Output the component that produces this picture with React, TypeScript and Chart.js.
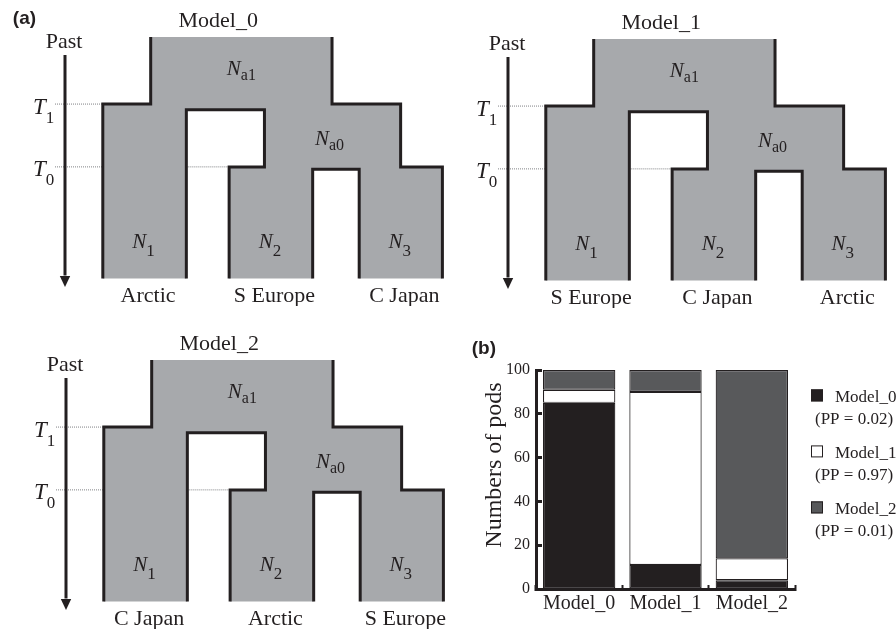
import React, { useEffect, useRef } from "react";
import { Chart, registerables } from "chart.js";

Chart.register(...registerables);

// ---------------- (a) model trees : data ----------------
const MODEL_TITLES = ["Model_0", "Model_1", "Model_2"];
const POPS_MODEL_0 = ["Arctic", "S Europe", "C Japan"];
const POPS_MODEL_1 = ["S Europe", "C Japan", "Arctic"];
const POPS_MODEL_2 = ["C Japan", "Arctic", "S Europe"];
const MODEL_POPS = [POPS_MODEL_0, POPS_MODEL_1, POPS_MODEL_2];

// horizontal extent of the tree (0..100 across)
const BRANCH_LEFT = [0, 37.2, 75.5];
const BRANCH_RIGHT = [24.6, 61.8, 100];
const ANC0_LEFT = 47.6;
const ANC0_STEP = 87.7;
const ANC1_LEFT = 14.1;
const ANC1_RIGHT = 67.5;
// time (present = 0)
const TIME_T0 = 46.2;
const TIME_T1 = 72.2;
const TIME_TOP = 100;
const GAP_TOP = [69.8, 45.2];

const SIZE_SUBS = ["1", "2", "3"];
const ANC_SUBS = ["a0", "a1"];
const TIME_SUBS = ["0", "1"];

// ---------------- (b) bar chart : data ----------------
const POD_CATEGORIES = ["Model_0", "Model_1", "Model_2"];
const PODS_AS_MODEL_0 = [85, 11, 4];
const PODS_AS_MODEL_1 = [6, 79, 10];
const PODS_AS_MODEL_2 = [9, 10, 86];
const LEGEND_NAMES = ["Model_0", "Model_1", "Model_2"];
const LEGEND_PP = ["0.02", "0.97", "0.01"];
const Y_MIN = 0;
const Y_MAX = 100;
const Y_STEP = 20;

// ---------------- styles / layout ----------------
const INK = "#231f20";
const TREE_GRAY = "#a7a9ac";
const BAR_GRAY = "#58595b";
const DOT_GRAY = "#808285";
const SERIF = '"Liberation Serif", "Times New Roman", serif';
const SANS = '"Liberation Sans", Arial, sans-serif';

const TREE_W = 450;
const TREE_H = 306;
const TREE_POS = [
  { left: 0, top: 0 },
  { left: 443, top: 2 },
  { left: 1, top: 323 },
];
const TREE_FRAME = { left: 102.8, right: 442.4, top: 36.9, bottom: 278.5 };
const BAR_BOX = { left: 470, top: 330, width: 426, height: 301 };

function drawSub(ctx, x, y, main, sub, o) {
  ctx.font = `italic ${o.mainSize}px ${SERIF}`;
  const w1 = ctx.measureText(main).width;
  ctx.font = `${o.subSize}px ${SERIF}`;
  const w2 = ctx.measureText(sub).width;
  const x0 = o.align === "left" ? x : x - (w1 + w2) / 2;
  ctx.textAlign = "left";
  ctx.textBaseline = "alphabetic";
  ctx.font = `italic ${o.mainSize}px ${SERIF}`;
  ctx.fillText(main, x0, y);
  ctx.font = `${o.subSize}px ${SERIF}`;
  ctx.fillText(sub, x0 + w1 + (o.kern || 0), y + o.dy);
}

function makeTreeConfig(idx) {
  const kx = (TREE_FRAME.right - TREE_FRAME.left) / 100;
  const ky = (TREE_FRAME.bottom - TREE_FRAME.top) / TIME_TOP;
  const [L1, L2, L3] = BRANCH_LEFT;
  const [R1, R2, R3] = BRANCH_RIGHT;
  const [G1, G2] = GAP_TOP;
  const T0 = TIME_T0;
  const T1 = TIME_T1;
  const TOP = TIME_TOP;
  const P = (x, y) => ({ x, y });
  const BREAK = { x: 0, y: null };

  const polygon = [
    P(L1, 0), P(L1, T1), P(ANC1_LEFT, T1), P(ANC1_LEFT, TOP), P(ANC1_RIGHT, TOP),
    P(ANC1_RIGHT, T1), P(ANC0_STEP, T1), P(ANC0_STEP, T0), P(R3, T0), P(R3, 0),
    P(L3, 0), P(L3, G2), P(R2, G2), P(R2, 0), P(L2, 0), P(L2, T0),
    P(ANC0_LEFT, T0), P(ANC0_LEFT, G1), P(R1, G1), P(R1, 0), P(L1, 0),
  ];
  const outline = [
    P(ANC1_LEFT, TOP), P(ANC1_LEFT, T1), P(L1, T1), P(L1, 0), BREAK,
    P(ANC1_RIGHT, TOP), P(ANC1_RIGHT, T1), P(ANC0_STEP, T1), P(ANC0_STEP, T0), P(R3, T0), P(R3, 0), BREAK,
    P(R1, 0), P(R1, G1), P(ANC0_LEFT, G1), P(ANC0_LEFT, T0), P(L2, T0), P(L2, 0), BREAK,
    P(R2, 0), P(R2, G2), P(L3, G2), P(L3, 0),
  ];
  const dotStart = -47.8 / kx;
  const dotted = [
    P(dotStart, T1), P(L1, T1), BREAK,
    P(dotStart, T0), P(L1, T0), BREAK,
    P(R1, T0), P(L2, T0),
  ];
  const ax = -37.8 / kx;
  const arrowTop = 223.5 / ky;
  const tip = -8.5 / ky;
  const headBase = tip + 11 / ky;
  const half = 5.2 / kx;
  const shaft = [P(ax, arrowTop), P(ax, headBase + 0.5 / ky)];
  const head = [P(ax - half, headBase), P(ax + half, headBase), P(ax, tip), P(ax - half, headBase)];

  const base = { pointRadius: 0, pointHoverRadius: 0, tension: 0, borderCapStyle: "butt", borderJoinStyle: "miter" };
  const pops = MODEL_POPS[idx];

  const labels = {
    id: "treeLabels",
    afterDatasetsDraw(chart) {
      const { ctx } = chart;
      const xs = chart.scales.x;
      const ys = chart.scales.y;
      const X = (v) => xs.getPixelForValue(v);
      const Y = (v) => ys.getPixelForValue(v);
      ctx.save();
      ctx.fillStyle = INK;
      ctx.textBaseline = "alphabetic";
      if (idx === 0) {
        ctx.font = `bold 19px ${SANS}`;
        ctx.textAlign = "left";
        ctx.fillText("(a)", X(0) - 90, Y(TOP) - 13.4);
      }
      ctx.font = `22px ${SERIF}`;
      ctx.textAlign = "center";
      ctx.fillText(MODEL_TITLES[idx], X(34), Y(TOP) - 10.2);
      ctx.fillText("Past", X(ax) - 1, Y(TOP) + 11.4);
      for (let i = 0; i < 3; i++) {
        const c = (BRANCH_LEFT[i] + BRANCH_RIGHT[i]) / 2;
        ctx.font = `22px ${SERIF}`;
        ctx.textAlign = "center";
        ctx.fillText(pops[i], X(c) + 3.5, Y(0) + 23);
        drawSub(ctx, X(c) - 1, Y(0) - 30.5, "N", SIZE_SUBS[i], { mainSize: 21, subSize: 17, dy: 8 });
      }
      drawSub(ctx, X((ANC1_LEFT + ANC1_RIGHT) / 2), Y(T1) - 29, "N", ANC_SUBS[1], { mainSize: 21, subSize: 16, dy: 5 });
      drawSub(ctx, X((ANC0_LEFT + ANC0_STEP) / 2) - 3, Y(T0) - 22, "N", ANC_SUBS[0], { mainSize: 21, subSize: 16, dy: 5 });
      drawSub(ctx, X(dotStart) - 22, Y(T1) + 9.5, "T", TIME_SUBS[1], { mainSize: 23, subSize: 17, dy: 9, align: "left" });
      drawSub(ctx, X(dotStart) - 22, Y(T0) + 9.5, "T", TIME_SUBS[0], { mainSize: 23, subSize: 17, dy: 9, align: "left" });
      ctx.restore();
    },
  };

  return {
    type: "line",
    data: {
      datasets: [
        { ...base, data: outline, borderColor: INK, borderWidth: 3, fill: false, order: 1 },
        { ...base, data: shaft, borderColor: INK, borderWidth: 3, fill: false, order: 2 },
        { ...base, data: head, borderColor: "rgba(0,0,0,0)", borderWidth: 0, backgroundColor: INK, fill: "shape", order: 3 },
        { ...base, data: dotted, borderColor: DOT_GRAY, borderWidth: 1, borderDash: [1, 1], fill: false, order: 4 },
        { ...base, data: polygon, borderColor: "rgba(0,0,0,0)", borderWidth: 0, backgroundColor: TREE_GRAY, fill: "shape", order: 5 },
      ],
    },
    options: {
      responsive: false,
      animation: false,
      events: [],
      layout: { padding: 0 },
      plugins: { legend: { display: false }, tooltip: { enabled: false }, title: { display: false } },
      scales: {
        x: { type: "linear", display: false, min: -TREE_FRAME.left / kx, max: (TREE_W - TREE_FRAME.left) / kx },
        y: { type: "linear", display: false, min: -(TREE_H - TREE_FRAME.bottom) / ky, max: TREE_FRAME.bottom / ky },
      },
    },
    plugins: [labels],
  };
}

const LEGEND_FILLS = [INK, "#ffffff", BAR_GRAY];

const barExtras = {
  id: "barExtras",
  afterDraw(chart) {
    const { ctx, chartArea: a } = chart;
    ctx.save();
    ctx.fillStyle = INK;
    ctx.textBaseline = "alphabetic";
    ctx.textAlign = "left";
    ctx.font = `bold 19px ${SANS}`;
    ctx.fillText("(b)", a.left - 64.3, a.top - 16.5);

    ctx.save();
    ctx.translate(a.left - 40.8, (a.top + a.bottom) / 2 - 14.5);
    ctx.rotate(-Math.PI / 2);
    ctx.textAlign = "center";
    ctx.textBaseline = "middle";
    ctx.font = `24px ${SERIF}`;
    ctx.fillText("Numbers of pods", 0, 0);
    ctx.restore();

    for (let i = 0; i < LEGEND_NAMES.length; i++) {
      const baseY = a.top + 31.7 + 56 * i;
      ctx.fillStyle = LEGEND_FILLS[i];
      ctx.fillRect(a.right + 16, baseY - 12.3, 12, 12);
      ctx.strokeStyle = INK;
      ctx.lineWidth = 1;
      ctx.strokeRect(a.right + 16.5, baseY - 11.8, 11, 11);
      ctx.fillStyle = INK;
      ctx.font = `17px ${SERIF}`;
      ctx.textAlign = "left";
      ctx.fillText(LEGEND_NAMES[i], a.right + 40, baseY);
      ctx.fillText(`(PP = ${LEGEND_PP[i]})`, a.right + 20, baseY + 22.3);
    }
    ctx.restore();
  },
};

function makeBarConfig() {
  const seg = { borderColor: INK, borderWidth: 1.2, borderSkipped: false, categoryPercentage: 1, barPercentage: 0.838 };
  return {
    type: "bar",
    data: {
      labels: POD_CATEGORIES,
      datasets: [
        { ...seg, label: LEGEND_NAMES[0], data: PODS_AS_MODEL_0, backgroundColor: LEGEND_FILLS[0] },
        { ...seg, label: LEGEND_NAMES[1], data: PODS_AS_MODEL_1, backgroundColor: LEGEND_FILLS[1] },
        { ...seg, label: LEGEND_NAMES[2], data: PODS_AS_MODEL_2, backgroundColor: LEGEND_FILLS[2] },
      ],
    },
    options: {
      responsive: false,
      animation: false,
      events: [],
      layout: { padding: { top: 40, right: 101, left: 0, bottom: 0 } },
      plugins: { legend: { display: false }, tooltip: { enabled: false } },
      scales: {
        x: {
          stacked: true,
          offset: true,
          grid: { display: true, offset: true, drawOnChartArea: false, drawTicks: true, tickLength: -4, tickWidth: 2, tickColor: INK },
          border: { display: true, color: INK, width: 3 },
          ticks: { color: INK, padding: 7, font: { family: SERIF, size: 20 } },
          afterFit: (s) => { s.height = 42; },
        },
        y: {
          stacked: true,
          min: Y_MIN,
          max: Y_MAX,
          grid: { display: true, drawOnChartArea: false, drawTicks: true, tickLength: -6, tickWidth: 3, tickColor: INK },
          border: { display: true, color: INK, width: 3 },
          ticks: { stepSize: Y_STEP, color: INK, padding: 12, font: { family: SERIF, size: 16 } },
          afterFit: (s) => { s.width = 66; },
        },
      },
    },
    plugins: [barExtras],
  };
}

function TreeChart({ idx }) {
  const ref = useRef(null);
  useEffect(() => {
    const chart = new Chart(ref.current, makeTreeConfig(idx));
    return () => chart.destroy();
  }, [idx]);
  const pos = TREE_POS[idx];
  return (
    <canvas
      ref={ref}
      width={TREE_W}
      height={TREE_H}
      style={{ position: "absolute", left: pos.left, top: pos.top, width: TREE_W, height: TREE_H }}
    />
  );
}

function PodsChart() {
  const ref = useRef(null);
  useEffect(() => {
    const chart = new Chart(ref.current, makeBarConfig());
    return () => chart.destroy();
  }, []);
  return (
    <canvas
      ref={ref}
      width={BAR_BOX.width}
      height={BAR_BOX.height}
      style={{ position: "absolute", left: BAR_BOX.left, top: BAR_BOX.top, width: BAR_BOX.width, height: BAR_BOX.height }}
    />
  );
}

export default function App() {
  return (
    <div style={{ position: "fixed", left: 0, top: 0, width: 896, height: 631, background: "#ffffff", overflow: "hidden" }}>
      <TreeChart idx={0} />
      <TreeChart idx={1} />
      <TreeChart idx={2} />
      <PodsChart />
    </div>
  );
}
